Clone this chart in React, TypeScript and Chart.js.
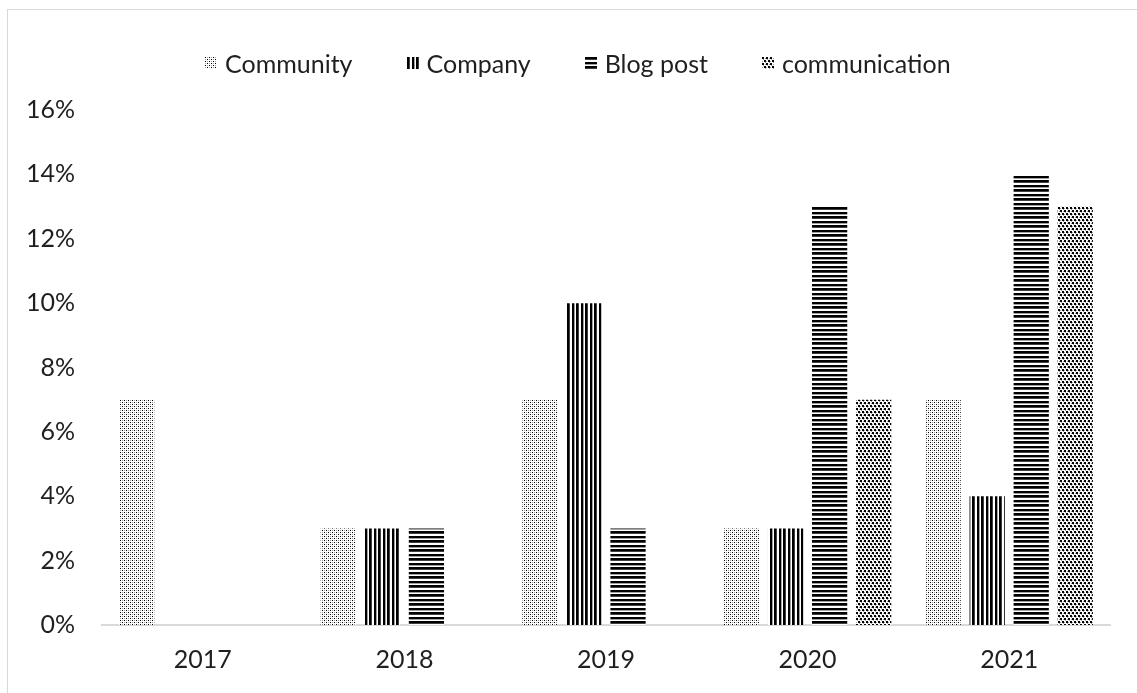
import React, { useEffect, useRef } from "react";
import { Chart, registerables } from "chart.js";

Chart.register(...registerables);

// Share of mentions per year, in percent
const years = ["2017", "2018", "2019", "2020", "2021"];
const communityValues = [7, 3, 7, 3, 7];
const companyValues = [null, 3, 10, 3, 4];
const blogPostValues = [null, 3, 3, 13, 14];
const communicationValues = [null, null, null, 7, 13];
const seriesNames = ["Community", "Company", "Blog post", "communication"];

const Y_MAX = 16;
const Y_STEP = 2;

const FONT = "Lato, 'Open Sans', sans-serif";
const FONT_SIZE = 25;
const TEXT_COLOR = "#1f1f1f";

// Monochrome fill tiles: k = black, d = dark grey, g = mid grey, . = white
const PALETTE: Record<string, string> = {
  k: "#000000",
  d: "#404040",
  g: "#a0a0a0",
  l: "#d0d0d0",
  ".": "#ffffff",
};

const dottedTile = ["k.g.", "....", "g.k.", "...."];
const verticalTile = ["kkd..kkg."];
const horizontalTile = ["k", "k", "d", ".", ".", "k", "k", "g", "."];
const confettiTile = ["kk..", "kk.g", ".g..", "..kk", "g.kk", "...g"];

function makePattern(ctx: CanvasRenderingContext2D, tile: string[]): CanvasPattern | string {
  const c = document.createElement("canvas");
  c.width = tile[0].length;
  c.height = tile.length;
  const t = c.getContext("2d");
  if (!t) return "#999";
  tile.forEach((row, y) => {
    for (let x = 0; x < row.length; x++) {
      t.fillStyle = PALETTE[row[x]] || "#ffffff";
      t.fillRect(x, y, 1, 1);
    }
  });
  return ctx.createPattern(c, "repeat") || "#999";
}

const tiles = [dottedTile, verticalTile, horizontalTile, confettiTile];

function Swatch({ tile }: { tile: string[] }) {
  const ref = useRef<HTMLCanvasElement | null>(null);
  useEffect(() => {
    const cv = ref.current;
    if (!cv) return;
    const ctx = cv.getContext("2d");
    if (!ctx) return;
    ctx.fillStyle = makePattern(ctx, tile);
    ctx.fillRect(0, 0, cv.width, cv.height);
  }, [tile]);
  return <canvas ref={ref} width={12} height={12} style={{ display: "block", marginRight: 8 }} />;
}

export default function App() {
  const canvasRef = useRef<HTMLCanvasElement | null>(null);

  useEffect(() => {
    const canvas = canvasRef.current;
    if (!canvas) return;
    const ctx = canvas.getContext("2d");
    if (!ctx) return;

    const values = [communityValues, companyValues, blogPostValues, communicationValues];
    const datasets = values.map((data, i) => ({
      label: seriesNames[i],
      data,
      backgroundColor: makePattern(ctx, tiles[i]),
      borderWidth: 0,
      categoryPercentage: 0.874,
      barPercentage: 0.8,
    }));

    const chart = new Chart(ctx, {
      type: "bar",
      data: { labels: years, datasets },
      options: {
        animation: false,
        responsive: false,
        maintainAspectRatio: false,
        layout: { padding: { left: 10, right: 27, top: 110, bottom: 18 } },
        plugins: {
          legend: { display: false },
          tooltip: { enabled: false },
        },
        scales: {
          x: {
            grid: { display: false, drawTicks: false },
            border: { display: true, color: "#d9d9d9", width: 2 },
            ticks: {
              color: TEXT_COLOR,
              font: { family: FONT, size: FONT_SIZE },
              padding: 20,
              maxRotation: 0,
            },
            afterFit: (scale: any) => {
              scale.height = 50;
            },
          },
          y: {
            min: 0,
            max: Y_MAX,
            grid: { display: false, drawTicks: false },
            border: { display: false },
            ticks: {
              stepSize: Y_STEP,
              color: TEXT_COLOR,
              font: { family: FONT, size: FONT_SIZE },
              padding: 27,
              callback: (v: any) => `${v}%`,
            },
            afterFit: (scale: any) => {
              scale.width = 92;
            },
          },
        },
      },
    });

    return () => chart.destroy();
  }, []);

  return (
    <div
      style={{
        position: "fixed",
        left: 0,
        top: 0,
        width: 1137,
        height: 693,
        background: "#ffffff",
        overflow: "hidden",
      }}
    >
      <div
        style={{
          position: "absolute",
          left: 7,
          top: 9,
          width: 1200,
          height: 800,
          borderLeft: "1px solid #d9d9d9",
          borderTop: "1px solid #d9d9d9",
        }}
      />
      <canvas
        ref={canvasRef}
        width={1137}
        height={693}
        style={{ position: "absolute", left: 0, top: 0, width: 1137, height: 693 }}
      />
      <div
        style={{
          position: "absolute",
          left: 205,
          top: 48,
          height: 30,
          display: "flex",
          alignItems: "center",
          fontFamily: FONT,
          fontSize: FONT_SIZE,
          color: TEXT_COLOR,
          whiteSpace: "nowrap",
        }}
      >
        {seriesNames.map((name, i) => (
          <div
            key={name}
            style={{ display: "flex", alignItems: "center", marginRight: i < seriesNames.length - 1 ? 54 : 0 }}
          >
            <Swatch tile={tiles[i]} />
            <span>{name}</span>
          </div>
        ))}
      </div>
    </div>
  );
}
